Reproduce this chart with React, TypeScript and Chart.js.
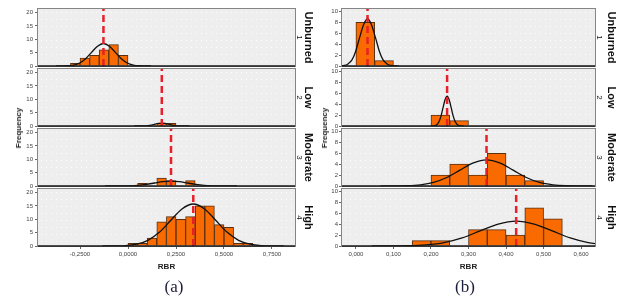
import React, { useEffect, useRef } from 'react';
import { Chart, registerables } from 'chart.js';

Chart.register(...registerables);
Chart.defaults.font.family = "'Liberation Sans', Arial, sans-serif";

// ---------- shared labels ----------
const rowLabels = ['Unburned', 'Low', 'Moderate', 'High'];
const rowCodes = ['1', '2', '3', '4'];
const xTitle = 'RBR';
const yTitle = 'Frequency';

// ---------- panel (a) ----------
const aTickValues = [-0.25, 0, 0.25, 0.5, 0.75];
const aTickLabels = ['-0,2500', '0,0000', '0,2500', '0,5000', '0,7500'];
const aYTicks = [0, 5, 10, 15, 20];

const aBins1 = [-0.275, -0.225, -0.175, -0.125, -0.075, -0.025];
const aCounts1 = [1, 3, 4, 6, 8, 4];
const aBins2 = [0.175, 0.225];
const aCounts2 = [1, 1];
const aBins3 = [0.075, 0.175, 0.225, 0.325];
const aCounts3 = [1, 3, 2, 2];
const aBins4 = [0.025, 0.075, 0.125, 0.175, 0.225, 0.275, 0.325, 0.375, 0.425, 0.475, 0.525, 0.575, 0.625];
const aCounts4 = [1, 1, 3, 9, 11, 10, 11, 15, 15, 8, 7, 1, 1];

const aMeans = [-0.128, 0.176, 0.224, 0.34];

const aCurveX1 = [-0.376, -0.314, -0.283, -0.252, -0.221, -0.19, -0.159, -0.128, -0.097, -0.066, -0.035, -0.004, 0.027, 0.058, 0.12];
const aCurveY1 = [0.003, 0.09, 0.37, 1.14, 2.73, 5.09, 7.41, 8.4, 7.41, 5.09, 2.73, 1.14, 0.37, 0.09, 0.003];
const aCurveX2 = [0.032, 0.068, 0.086, 0.104, 0.122, 0.14, 0.158, 0.176, 0.194, 0.212, 0.23, 0.248, 0.266, 0.284, 0.32];
const aCurveY2 = [0, 0.012, 0.048, 0.149, 0.357, 0.667, 0.971, 1.1, 0.971, 0.667, 0.357, 0.149, 0.048, 0.012, 0];
const aCurveX3 = [-0.12, -0.034, 0.009, 0.052, 0.095, 0.138, 0.181, 0.224, 0.267, 0.31, 0.353, 0.396, 0.439, 0.482, 0.568];
const aCurveY3 = [0.001, 0.021, 0.081, 0.25, 0.6, 1.12, 1.63, 1.85, 1.63, 1.12, 0.6, 0.25, 0.081, 0.021, 0.001];
const aCurveX4 = [-0.132, -0.014, 0.045, 0.104, 0.163, 0.222, 0.281, 0.34, 0.399, 0.458, 0.517, 0.576, 0.635, 0.694, 0.812];
const aCurveY4 = [0.005, 0.17, 0.69, 2.12, 5.1, 9.52, 13.86, 15.7, 13.86, 9.52, 5.1, 2.12, 0.69, 0.17, 0.005];

// ---------- panel (b) ----------
const bTickValues = [0, 0.1, 0.2, 0.3, 0.4, 0.5, 0.6];
const bTickLabels = ['0,000', '0,100', '0,200', '0,300', '0,400', '0,500', '0,600'];
const bYTicks = [0, 2, 4, 6, 8, 10];

const bBins1 = [0.025, 0.075];
const bCounts1 = [8, 1];
const bBins2 = [0.225, 0.275];
const bCounts2 = [2, 1];
const bBins3 = [0.225, 0.275, 0.325, 0.375, 0.425, 0.475];
const bCounts3 = [2, 4, 2, 6, 2, 1];
const bBins4 = [0.175, 0.225, 0.325, 0.375, 0.425, 0.475, 0.525];
const bCounts4 = [1, 1, 3, 3, 2, 7, 5];

const bMeans = [0.031, 0.243, 0.348, 0.427];

const bCurveX1 = [-0.052, -0.031, -0.021, -0.01, 0.0, 0.01, 0.021, 0.031, 0.041, 0.052, 0.062, 0.072, 0.083, 0.093, 0.114];
const bCurveY1 = [0.003, 0.096, 0.38, 1.17, 2.81, 5.25, 7.64, 8.66, 7.64, 5.25, 2.81, 1.17, 0.38, 0.096, 0.003];
const bCurveX2 = [0.199, 0.21, 0.2155, 0.221, 0.2265, 0.232, 0.2375, 0.243, 0.2485, 0.254, 0.2595, 0.265, 0.2705, 0.276, 0.287];
const bCurveY2 = [0.002, 0.06, 0.24, 0.74, 1.77, 3.31, 4.81, 5.45, 4.81, 3.31, 1.77, 0.74, 0.24, 0.06, 0.002];
const bCurveX3 = [0.066, 0.136, 0.172, 0.207, 0.242, 0.277, 0.313, 0.348, 0.383, 0.419, 0.454, 0.489, 0.525, 0.56, 0.63];
const bCurveY3 = [0.001, 0.053, 0.21, 0.65, 1.56, 2.91, 4.24, 4.8, 4.24, 2.91, 1.56, 0.65, 0.21, 0.053, 0.001];
const bCurveX4 = [0.042, 0.138, 0.187, 0.235, 0.283, 0.331, 0.379, 0.427, 0.475, 0.523, 0.571, 0.619, 0.668, 0.716, 0.812];
const bCurveY4 = [0.001, 0.051, 0.2, 0.62, 1.48, 2.77, 4.02, 4.56, 4.02, 2.77, 1.48, 0.62, 0.2, 0.051, 0.001];

// ---------- layout ----------
const ROW_FRAMES = [
  [9, 66],
  [69, 126],
  [129, 186],
  [189, 246],
];
const PAD_TOP = 5;
const PAD_BOTTOM = 4;
const X_AXIS_H = 26;

type PanelSpec = {
  canvasX: number;
  canvasW: number;
  yAxisW: number;
  padRight: number;
  yTickPad: number;
  xMin: number;
  xMax: number;
  yMax: number;
  xTickValues: number[];
  xTickLabels: string[];
  yTicks: number[];
  bins: number[][];
  counts: number[][];
  means: number[];
  curveX: number[][];
  curveY: number[][];
  labelOffset: number;
  codeOffset: number;
};

const panelA: PanelSpec = {
  canvasX: 0,
  canvasW: 318,
  yAxisW: 38,
  padRight: 23,
  yTickPad: 2,
  xMin: -0.469,
  xMax: 0.87,
  yMax: 21.3,
  xTickValues: aTickValues,
  xTickLabels: aTickLabels,
  yTicks: aYTicks,
  bins: [aBins1, aBins2, aBins3, aBins4],
  counts: [aCounts1, aCounts2, aCounts3, aCounts4],
  means: aMeans,
  curveX: [aCurveX1, aCurveX2, aCurveX3, aCurveX4],
  curveY: [aCurveY1, aCurveY2, aCurveY3, aCurveY4],
  labelOffset: 13,
  codeOffset: 4.5,
};

const panelB: PanelSpec = {
  canvasX: 318,
  canvasW: 317,
  yAxisW: 24,
  padRight: 40,
  yTickPad: 1,
  xMin: -0.037,
  xMax: 0.637,
  yMax: 10.45,
  xTickValues: bTickValues,
  xTickLabels: bTickLabels,
  yTicks: bYTicks,
  bins: [bBins1, bBins2, bBins3, bBins4],
  counts: [bCounts1, bCounts2, bCounts3, bCounts4],
  means: bMeans,
  curveX: [bCurveX1, bCurveX2, bCurveX3, bCurveX4],
  curveY: [bCurveY1, bCurveY2, bCurveY3, bCurveY4],
  labelOffset: 16,
  codeOffset: 4.5,
};

const decoPlugin = {
  id: 'panelDeco',
  beforeDraw(chart: any) {
    const { ctx, chartArea } = chart;
    const { left, top, right, bottom } = chartArea;
    ctx.save();
    ctx.fillStyle = '#eeeeee';
    ctx.fillRect(left, top, right - left, bottom - top);
    ctx.fillStyle = 'rgba(255,255,255,0.95)';
    for (let y = top + 3; y < bottom - 1; y += 7) {
      for (let x = left + 3; x < right - 1; x += 5) {
        ctx.fillRect(x, y, 1, 1);
      }
    }
    ctx.restore();
  },
  afterDatasetsDraw(chart: any) {
    const { ctx, chartArea } = chart;
    const { left, top, right, bottom } = chartArea;
    ctx.save();
    ctx.strokeStyle = '#858585';
    ctx.lineWidth = 1;
    ctx.strokeRect(left - 0.5, top - 0.5, right - left + 1, bottom - top + 1);
    ctx.strokeStyle = '#1a1a1a';
    ctx.lineWidth = 1.6;
    ctx.beginPath();
    ctx.moveTo(left, bottom);
    ctx.lineTo(right, bottom);
    ctx.stroke();
    ctx.restore();
  },
  afterDraw(chart: any, _args: any, opts: any) {
    const { ctx, chartArea } = chart;
    const cy = (chartArea.top + chartArea.bottom) / 2;
    ctx.save();
    ctx.fillStyle = '#111';
    ctx.textAlign = 'center';
    ctx.textBaseline = 'middle';
    ctx.translate(chartArea.right + opts.labelOffset, cy);
    ctx.rotate(Math.PI / 2);
    ctx.font = "bold 11px 'Liberation Sans', Arial, sans-serif";
    ctx.fillText(opts.label, 0, 0);
    ctx.restore();
    ctx.save();
    ctx.fillStyle = '#111';
    ctx.textAlign = 'center';
    ctx.textBaseline = 'middle';
    ctx.translate(chartArea.right + opts.codeOffset, cy);
    ctx.rotate(Math.PI / 2);
    ctx.font = "8px 'Liberation Sans', Arial, sans-serif";
    ctx.fillText(opts.code, 0, 0);
    ctx.restore();
  },
};

function Subplot({ spec, row }: { spec: PanelSpec; row: number }) {
  const ref = useRef<HTMLCanvasElement>(null);
  const bottom = row === 3;
  const frame = ROW_FRAMES[row];
  const top = frame[0] - PAD_TOP;
  const h = frame[1] - frame[0] + PAD_TOP + (bottom ? X_AXIS_H : PAD_BOTTOM);

  useEffect(() => {
    const bins = spec.bins[row];
    const counts = spec.counts[row];
    const cx = spec.curveX[row];
    const cyv = spec.curveY[row];
    const mean = spec.means[row];
    const chart = new Chart(ref.current as HTMLCanvasElement, {
      type: 'bar',
      data: {
        datasets: [
          {
            type: 'line',
            data: [
              { x: mean, y: 0 },
              { x: mean, y: spec.yMax },
            ],
            borderColor: '#e8202a',
            borderWidth: 2.5,
            borderDash: [7, 4],
            pointRadius: 0,
            fill: false,
            order: 1,
          } as any,
          {
            type: 'line',
            data: cx.map((x, i) => ({ x, y: cyv[i] })),
            borderColor: '#111111',
            borderWidth: 1.3,
            pointRadius: 0,
            fill: false,
            cubicInterpolationMode: 'monotone',
            order: 2,
          } as any,
          {
            type: 'bar',
            data: bins.map((x, i) => ({ x, y: counts[i] })),
            backgroundColor: '#f96a00',
            borderColor: '#5a3010',
            borderWidth: 1,
            barPercentage: 1,
            categoryPercentage: 1,
            grouped: false,
            order: 3,
          } as any,
        ],
      },
      options: {
        responsive: false,
        animation: false,
        devicePixelRatio: 1,
        events: [],
        layout: {
          padding: {
            left: 0,
            right: spec.padRight,
            top: PAD_TOP,
            bottom: bottom ? 0 : PAD_BOTTOM,
          },
        },
        plugins: {
          legend: { display: false },
          tooltip: { enabled: false },
          panelDeco: {
            label: rowLabels[row],
            code: rowCodes[row],
            labelOffset: spec.labelOffset,
            codeOffset: spec.codeOffset,
          },
        } as any,
        scales: {
          x: {
            type: 'linear',
            min: spec.xMin,
            max: spec.xMax,
            offset: false,
            display: bottom,
            afterBuildTicks: (s: any) => {
              s.ticks = spec.xTickValues.map((v) => ({ value: v }));
            },
            afterFit: (s: any) => {
              if (bottom) s.height = X_AXIS_H;
              s.paddingLeft = 0;
              s.paddingRight = 0;
            },
            ticks: {
              font: { size: 6 },
              color: '#444',
              padding: 2,
              maxRotation: 0,
              autoSkip: false,
              callback: (_v: any, i: number) => spec.xTickLabels[i],
            },
            grid: { offset: false, drawOnChartArea: false, drawTicks: true, tickLength: 3, color: '#666' },
            border: { display: false },
            title: {
              display: true,
              text: xTitle,
              font: { size: 8, weight: 'bold' },
              color: '#222',
              padding: 0,
            },
          } as any,
          y: {
            min: 0,
            max: spec.yMax,
            afterBuildTicks: (s: any) => {
              s.ticks = spec.yTicks.map((v) => ({ value: v }));
            },
            afterFit: (s: any) => {
              s.width = spec.yAxisW;
              s.paddingTop = 0;
              s.paddingBottom = 0;
            },
            ticks: { font: { size: 6 }, color: '#444', padding: spec.yTickPad },
            grid: { drawOnChartArea: false, drawTicks: true, tickLength: 3, color: '#666' },
            border: { display: false },
          } as any,
        },
      },
      plugins: [decoPlugin as any],
    });
    return () => chart.destroy();
  }, [spec, row, bottom]);

  return (
    <canvas
      ref={ref}
      width={spec.canvasW}
      height={h}
      style={{ position: 'absolute', left: spec.canvasX, top, width: spec.canvasW, height: h }}
    />
  );
}

function Label({
  x,
  y,
  text,
  rotate,
  font,
  color,
}: {
  x: number;
  y: number;
  text: string;
  rotate?: number;
  font: string;
  color: string;
}) {
  return (
    <div
      style={{
        position: 'absolute',
        left: x,
        top: y,
        transform: `translate(-50%, -50%) rotate(${rotate || 0}deg)`,
        font,
        color,
        whiteSpace: 'nowrap',
        lineHeight: 1,
      }}
    >
      {text}
    </div>
  );
}

export default function App() {
  const rows = [0, 1, 2, 3];
  return (
    <div
      style={{
        position: 'absolute',
        left: 0,
        top: 0,
        width: 635,
        height: 305,
        background: '#ffffff',
        overflow: 'hidden',
      }}
    >
      {rows.map((r) => (
        <Subplot key={'a' + r} spec={panelA} row={r} />
      ))}
      {rows.map((r) => (
        <Subplot key={'b' + r} spec={panelB} row={r} />
      ))}
      <Label x={19} y={128} text={yTitle} rotate={-90} font="bold 8px 'Liberation Sans', Arial, sans-serif" color="#222" />
      <Label x={325} y={128} text={yTitle} rotate={-90} font="bold 8px 'Liberation Sans', Arial, sans-serif" color="#222" />
      <Label x={174} y={286} text="(a)" font="17px 'Liberation Serif', 'Times New Roman', serif" color="#1c1c3c" />
      <Label x={465} y={286} text="(b)" font="17px 'Liberation Serif', 'Times New Roman', serif" color="#1c1c3c" />
    </div>
  );
}
